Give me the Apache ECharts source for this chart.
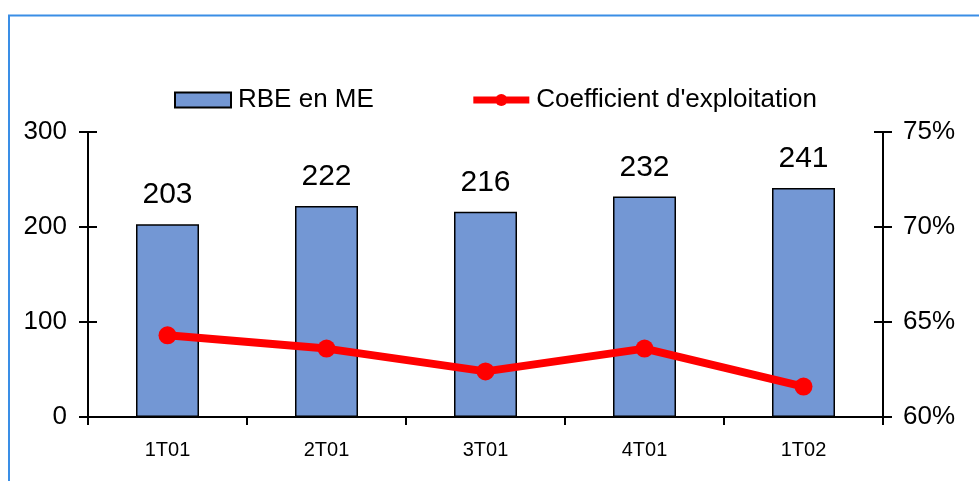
<!DOCTYPE html>
<html><head><meta charset="utf-8">
<script src="https://cdn.jsdelivr.net/npm/echarts@6/dist/echarts.min.js"></script>
<style>html,body{margin:0;padding:0;background:#fff}#c{width:979px;height:481px}</style>
</head><body><div id="c"></div>
<script>
const categories = ['1T01','2T01','3T01','4T01','1T02'];
const rbe = [203, 222, 216, 232, 241];
const coef = [64.3, 63.6, 62.4, 63.6, 61.6];
const leftTicks = [0, 100, 200, 300];
const rightTicks = [60, 65, 70, 75];

const chart = echarts.init(document.getElementById('c'));
const F = 'Liberation Sans, Arial, sans-serif';
chart.setOption({
  animation: false,
  graphic: [{type:'rect', shape:{x:9,y:15.5,width:1000,height:500}, style:{fill:'none', stroke:'#3a8ee6', lineWidth:2}}],
  legend: {
    top: 82, left: 169, itemGap: 96, itemWidth: 56, itemHeight: 15,
    textStyle: {fontFamily: F, fontSize: 26, color: '#000', padding:[0,0,0,2]},
    data: [
      {name:'RBE en ME', icon:'rect', itemStyle:{borderColor:'#000', borderWidth:2}},
      {name:"Coefficient d'exploitation", lineStyle:{width:7}}
    ]
  },
  grid: {left: 88, right: 96, top: 132, bottom: 64},
  xAxis: {
    type: 'category', data: categories, boundaryGap: true,
    axisLine: {lineStyle: {color: '#000', width: 2}},
    axisTick: {show: true, length: 8, lineStyle: {color: '#000', width: 2}},
    axisLabel: {fontFamily: F, fontSize: 20, color: '#000', margin: 23}
  },
  yAxis: [
    {type:'value', min:0, max:300, interval:100, position:'left',
     axisLine:{show:true, lineStyle:{color:'#000', width:2}},
     axisTick:{show:false},
     splitLine:{show:false},
     axisLabel:{fontFamily:F, fontSize:26, color:'#000', margin:21}},
    {type:'value', min:60, max:75, interval:5, position:'right',
     axisLine:{show:true, lineStyle:{color:'#000', width:2}},
     axisTick:{show:false},
     splitLine:{show:false},
     axisLabel:{fontFamily:F, fontSize:26, color:'#000', margin:20, formatter: v => v + '%'}},
    {type:'value', min:0, max:300, interval:100, position:'left', offset:-9,
     axisLine:{show:false}, axisLabel:{show:false}, splitLine:{show:false},
     axisTick:{show:true, length:18, lineStyle:{color:'#000', width:2}}},
    {type:'value', min:60, max:75, interval:5, position:'right', offset:-9,
     axisLine:{show:false}, axisLabel:{show:false}, splitLine:{show:false},
     axisTick:{show:true, length:18, lineStyle:{color:'#000', width:2}}}
  ],
  series: [
    {name:'RBE en ME', type:'bar', yAxisIndex:0, data: rbe, barWidth: 63,
     itemStyle:{color:'#7397d4', borderColor:'#000', borderWidth:1.5},
     label:{show:true, position:'top', distance:14, fontFamily:F, fontSize:30, color:'#000'}},
    {name:"Coefficient d'exploitation", type:'line', yAxisIndex:1, data: coef,
     symbol:'circle', symbolSize:18,
     lineStyle:{color:'#ff0000', width:8}, itemStyle:{color:'#ff0000'}}
  ]
});
</script></body></html>
